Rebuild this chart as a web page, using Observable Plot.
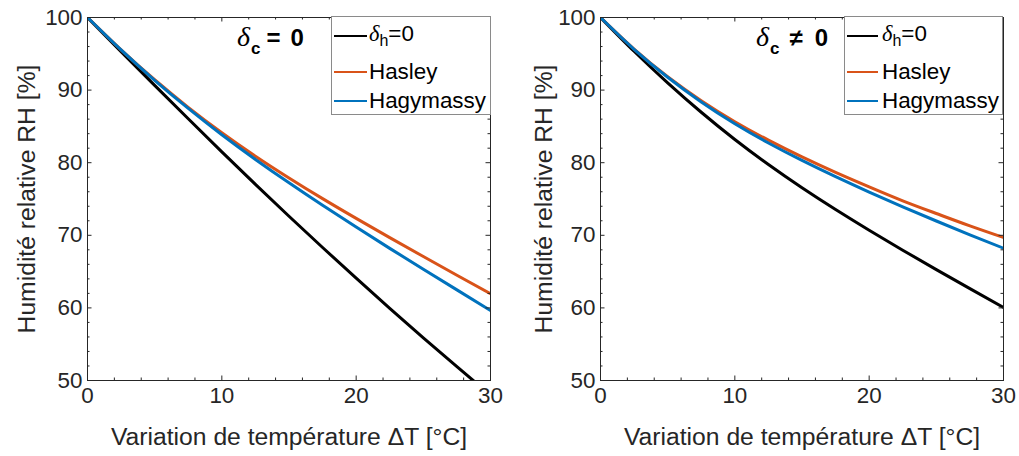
<!DOCTYPE html>
<html><head><meta charset="utf-8">
<script src="https://cdn.jsdelivr.net/npm/d3@7"></script>
<script src="https://cdn.jsdelivr.net/npm/@observablehq/plot@0.6"></script>
<style>
body{margin:0;background:#fff;font-family:"Liberation Sans",Arial,sans-serif;}
#wrap{position:relative;width:1019px;height:456px;overflow:hidden;background:#fff}
.panel{position:absolute;top:0}
.legend{position:absolute;background:#fff;border:1px solid #8a8a8a;box-sizing:border-box;}
.lrow{position:absolute;left:0;right:0;height:0}
.lline{position:absolute;height:2.6px;margin-top:-1.3px}
.ltext{position:absolute;font-size:22.4px;line-height:1;transform:translateY(-50%);color:#000;white-space:nowrap}
.delta{font-family:"Liberation Serif","DejaVu Serif",serif;font-style:italic}
.annot{position:absolute;font-weight:bold;font-size:24px;line-height:1;white-space:nowrap;color:#000}
</style>
</head><body>
<div id="wrap"></div>
<script>
// ---- data ----
const dT = [0, 2.5, 5, 7.5, 10, 12.5, 15, 17.5, 20, 22.5, 25, 27.5, 30];
const seriesNames = ["δh=0", "Hasley", "Hagymassy"];
const seriesColors = ["#000000", "#D95319", "#0072BD"];
// Left panel : δc = 0
const leftBlack = [100, 95.3, 90.65, 86.05, 81.5, 77.02, 72.62, 68.32, 64.1, 59.95, 55.88, 51.9, 48.0];
const leftHasley = [100, 95.55, 91.43, 87.63, 84.13, 80.9, 77.9, 75.05, 72.33, 69.68, 67.08, 64.5, 61.95];
const leftHagymassy = [100, 95.53, 91.35, 87.48, 83.85, 80.45, 77.23, 74.13, 71.13, 68.2, 65.33, 62.48, 59.65];
// Right panel : δc ≠ 0
const rightBlack = [100, 95.35, 91.0, 86.95, 83.2, 79.75, 76.55, 73.55, 70.7, 67.95, 65.27, 62.65, 60.07];
const rightHasley = [100, 95.65, 91.85, 88.55, 85.65, 83.1, 80.8, 78.67, 76.67, 74.75, 73.0, 71.3, 69.7];
const rightHagymassy = [100, 95.62, 91.77, 88.37, 85.37, 82.72, 80.32, 78.08, 75.96, 73.93, 71.97, 70.07, 68.22];
const xMajor = [0, 10, 20, 30];
const xMinor = [2, 4, 6, 8, 12, 14, 16, 18, 22, 24, 26, 28];
const yMajor = [50, 60, 70, 80, 90, 100];
const yMinor = [52, 54, 56, 58, 62, 64, 66, 68, 72, 74, 76, 78, 82, 84, 86, 88, 92, 94, 96, 98];
const xLabel = "Variation de température ΔT [°C]";
const yLabel = "Humidité relative RH [%]";

function rowsOf(arrs) {
  const rows = [];
  arrs.forEach((a, i) => a.forEach((v, j) => rows.push({dT: dT[j], RH: v, series: seriesNames[i]})));
  return rows;
}

const H = 456, MT = 17, MB = 76, FH = H - MT - MB;
const ink = "#262626";

function makePanel(left, width, mL, mR, arrs) {
  const rows = rowsOf(arrs);
  const FW = width - mL - mR;
  const chart = Plot.plot({
    width, height: H, marginLeft: mL, marginRight: mR, marginTop: MT, marginBottom: MB,
    style: {fontFamily: "'Liberation Sans', Arial, sans-serif", color: ink, background: "transparent", overflow: "visible"},
    x: {domain: [0, 30]},
    y: {domain: [50, 100]},
    color: {domain: seriesNames, range: seriesColors},
    marks: [
      Plot.axisX(xMajor, {tickSize: 0, tickPadding: 7, label: null, fontSize: 22.4, fill: ink}),
      Plot.axisY(yMajor, {tickSize: 0, tickPadding: 5, label: null, fontSize: 22.4, fill: ink}),
      Plot.line(rows, {x: "dT", y: "RH", z: "series", stroke: "series", strokeWidth: 3, curve: "natural", clip: true}),
      Plot.tickX(xMajor, {x: d => d, insetTop: FH - 4.5, stroke: ink}),
      Plot.tickX(xMajor, {x: d => d, insetBottom: FH - 4.5, stroke: ink}),
      Plot.tickX(xMinor, {x: d => d, insetTop: FH - 2.5, stroke: ink}),
      Plot.tickX(xMinor, {x: d => d, insetBottom: FH - 2.5, stroke: ink}),
      Plot.tickY(yMajor, {y: d => d, insetRight: FW - 4.5, stroke: ink}),
      Plot.tickY(yMajor, {y: d => d, insetLeft: FW - 4.5, stroke: ink}),
      Plot.tickY(yMinor, {y: d => d, insetRight: FW - 2.5, stroke: ink}),
      Plot.tickY(yMinor, {y: d => d, insetLeft: FW - 2.5, stroke: ink}),
      Plot.frame({stroke: ink}),
      Plot.text([xLabel], {text: d => d, frameAnchor: "bottom", dy: 57, lineAnchor: "middle", textAnchor: "middle", fontSize: 24.7, fill: ink}),
      Plot.text([yLabel], {text: d => d, frameAnchor: "left", dx: mL - 87 - 60, rotate: -90, lineAnchor: "middle", textAnchor: "middle", fontSize: 24.7, fill: ink})
    ]
  });
  const div = document.createElement("div");
  div.className = "panel";
  div.style.left = left + "px";
  div.appendChild(chart);
  document.getElementById("wrap").appendChild(div);
}

makePanel(0, 509, 87, 19, [leftBlack, leftHasley, leftHagymassy]);
makePanel(509, 510, 91, 16, [rightBlack, rightHasley, rightHagymassy]);

function labelHTML(name) {
  if (name === "δh=0") return '<span class="delta">δ</span><sub style="font-size:16px;vertical-align:-5px">h</sub>=0';
  return name;
}
function makeLegend(x, y, w, h, lineX, lineW, textX, rowYs) {
  const box = document.createElement("div");
  box.className = "legend";
  Object.assign(box.style, {left: x + "px", top: y + "px", width: w + "px", height: h + "px"});
  seriesNames.forEach((n, i) => {
    const r = document.createElement("div");
    r.className = "lrow";
    r.style.top = rowYs[i] + "px";
    r.innerHTML = `<div class="lline" style="left:${lineX}px;width:${lineW}px;background:${seriesColors[i]}"></div><div class="ltext" style="left:${textX}px">${labelHTML(n)}</div>`;
    box.appendChild(r);
  });
  document.getElementById("wrap").appendChild(box);
}
makeLegend(331, 16, 160, 99, 2, 33, 37, [19, 55, 84]);
makeLegend(844, 16, 159, 99, 2, 31, 37, [19, 55, 84]);

function makeAnnot(x, sym, gap1, gap2) {
  const d = document.createElement("div");
  d.className = "annot";
  d.style.left = x + "px";
  d.style.top = "23px";
  d.innerHTML = `<span class="delta" style="font-weight:normal;font-size:28px">δ</span><sub style="font-size:17px;vertical-align:-8px;margin-left:1px">c</sub><span style="margin-left:${gap1}px">${sym}</span><span style="margin-left:${gap2}px">0</span>`;
  document.getElementById("wrap").appendChild(d);
}
makeAnnot(237, "=", 6, 10);
makeAnnot(756, "≠", 10, 12);
</script>
</body></html>
